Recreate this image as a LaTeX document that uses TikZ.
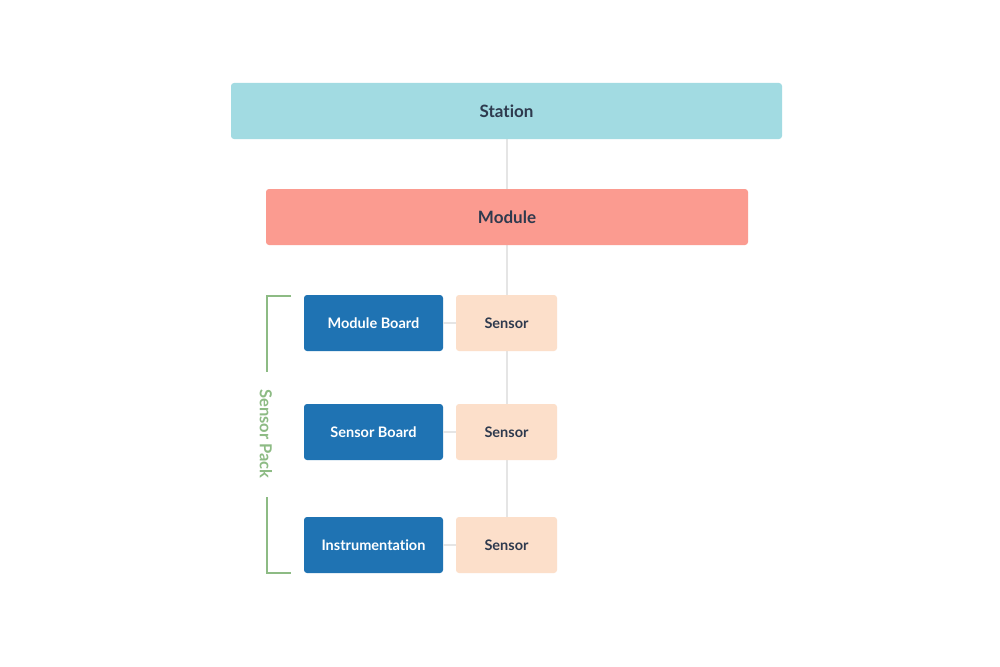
\documentclass[tikz,border=0pt]{standalone}
\usepackage{fontspec}
\setmainfont[Ligatures=NoCommon]{Lato}
\definecolor{stationc}{HTML}{A2DBE2}
\definecolor{modulec}{HTML}{FB9B90}
\definecolor{boardc}{HTML}{1F73B3}
\definecolor{sensorc}{HTML}{FCDFCA}
\definecolor{txtc}{HTML}{2E3A4E}
\definecolor{linec}{HTML}{E5E5E5}
\definecolor{packc}{HTML}{8DBB84}
\begin{document}
\begin{tikzpicture}[x=1pt,y=-1pt,
  box/.style={rounded corners=3pt,inner sep=0pt,font=\bfseries},
  bigbox/.style={box,fill=#1,minimum height=56pt,text=txtc,font=\bfseries\fontsize{17}{20}\selectfont},
  boardbox/.style={box,fill=boardc,minimum width=139pt,minimum height=56pt,text=white,font=\bfseries\fontsize{14.5}{17}\selectfont},
  sensbox/.style={box,fill=sensorc,minimum width=101pt,minimum height=56pt,text=txtc,font=\bfseries\fontsize{14.5}{17}\selectfont},
  conn/.style={draw=linec,line width=2pt},
  brk/.style={draw=packc,line width=1.8pt}]
\useasboundingbox (0,0) rectangle (1000,666);
\fill[white] (0,0) rectangle (1000,666);
% connectors first
\coordinate (top) at (507,139);
\coordinate (bot) at (507,517);
\draw[conn] (top) -- (bot);
\node[bigbox=stationc,minimum width=551pt] (station) at (506.5,111) {Station};
\node[bigbox=modulec,minimum width=482pt] (module) at (507,217) {Module};
\node[boardbox] (b1) at (373.5,323) {Module Board};
\node[sensbox] (s1) at (506.5,323) {Sensor};
\node[boardbox] (b2) at (373.5,432) {Sensor Board};
\node[sensbox] (s2) at (506.5,432) {Sensor};
\node[boardbox] (b3) at (373.5,545) {Instrumentation};
\node[sensbox] (s3) at (506.5,545) {Sensor};
\draw[conn] (b1.east) -- (s1.west);
\draw[conn] (b2.east) -- (s2.west);
\draw[conn] (b3.east) -- (s3.west);
% bracket
\coordinate (bt1) at (291,296);
\coordinate (bt2) at (267,296);
\coordinate (bt3) at (267,372);
\coordinate (bb1) at (267,497);
\coordinate (bb2) at (267,573);
\coordinate (bb3) at (291,573);
\draw[brk] (bt1) -- (bt2) -- (bt3);
\draw[brk] (bb1) -- (bb2) -- (bb3);
\node[rotate=-90,text=packc,font=\bfseries\fontsize{16.5}{19}\selectfont,inner sep=0pt] (pack) at (266,434) {Sensor Pack};
\end{tikzpicture}
\end{document}
